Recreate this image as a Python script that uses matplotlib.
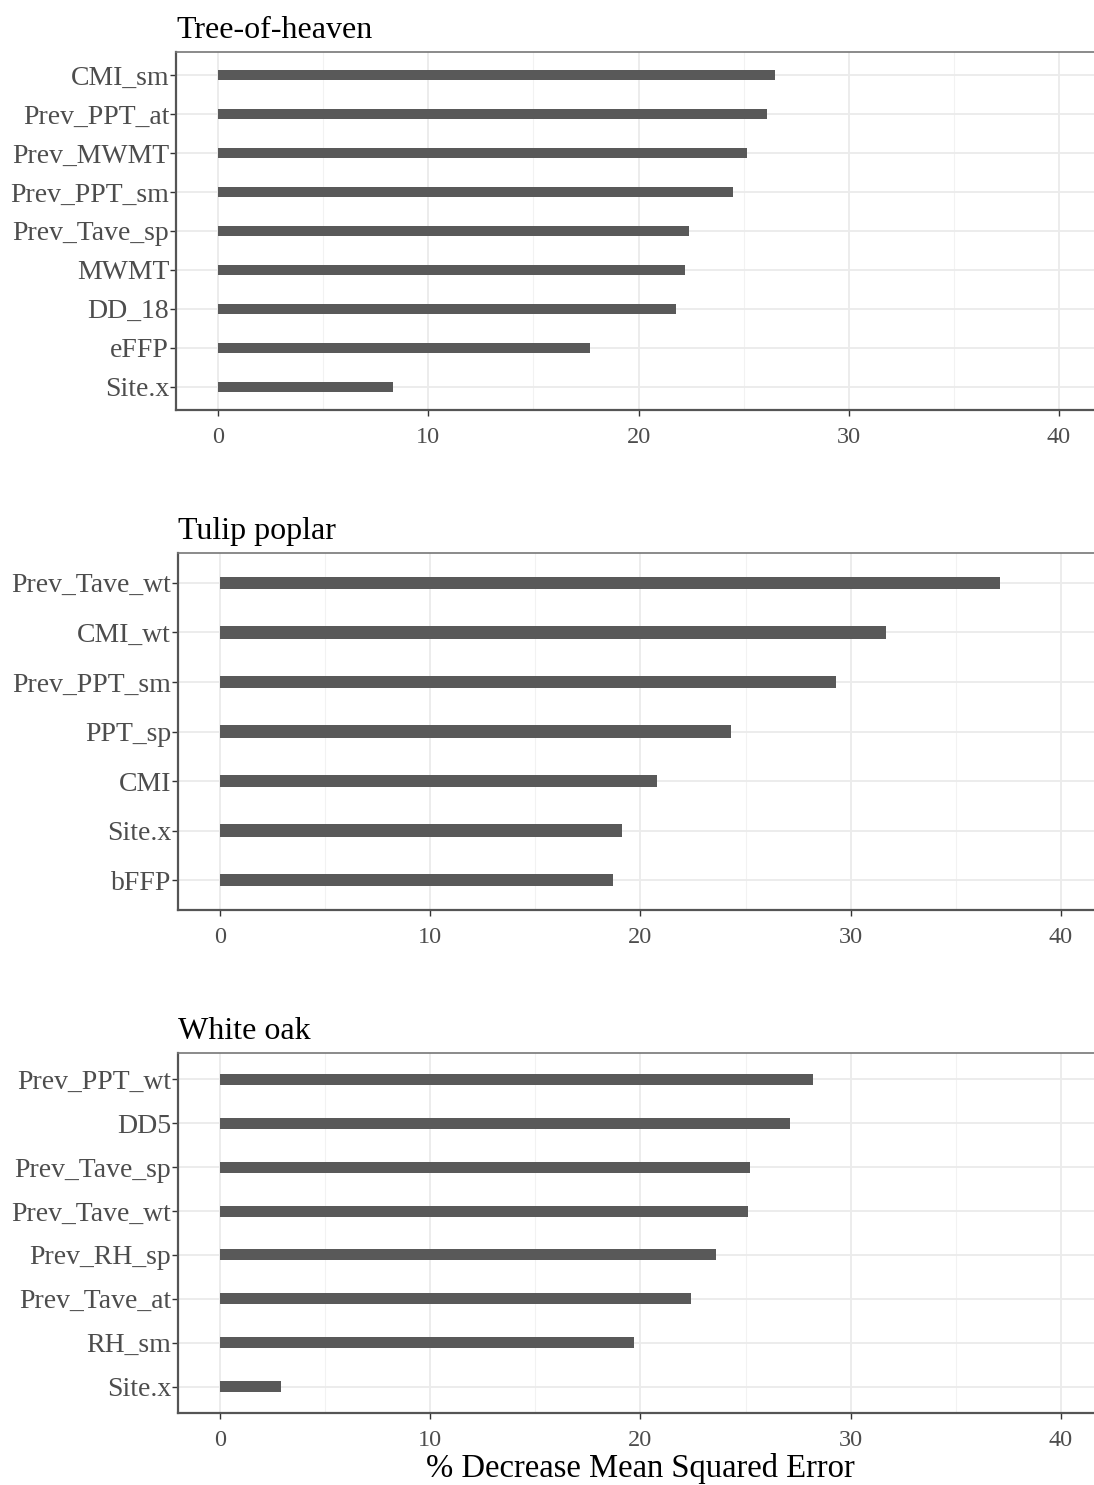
import matplotlib
matplotlib.use("Agg")
import matplotlib.pyplot as plt
from matplotlib.ticker import MultipleLocator

plt.rcParams['font.family'] = ['Liberation Serif', 'DejaVu Serif']

# variable importance per species (top to bottom as drawn)
heaven_vars = ['CMI_sm', 'Prev_PPT_at', 'Prev_MWMT', 'Prev_PPT_sm', 'Prev_Tave_sp',
               'MWMT', 'DD_18', 'eFFP', 'Site.x']
heaven_vals = [26.5, 26.1, 25.15, 24.5, 22.4, 22.2, 21.8, 17.7, 8.3]

poplar_vars = ['Prev_Tave_wt', 'CMI_wt', 'Prev_PPT_sm', 'PPT_sp', 'CMI', 'Site.x', 'bFFP']
poplar_vals = [37.1, 31.7, 29.3, 24.3, 20.8, 19.1, 18.7]

oak_vars = ['Prev_PPT_wt', 'DD5', 'Prev_Tave_sp', 'Prev_Tave_wt', 'Prev_RH_sp',
            'Prev_Tave_at', 'RH_sm', 'Site.x']
oak_vals = [28.2, 27.1, 25.2, 25.1, 23.6, 22.4, 19.7, 2.9]

panels = [
    ('Tree-of-heaven', heaven_vars, heaven_vals, [0.1609, 0.7239, 0.8455, 0.2411]),
    ('Tulip poplar', poplar_vars, poplar_vals, [0.1627, 0.3872, 0.8455, 0.2404]),
    ('White oak', oak_vars, oak_vals, [0.1627, 0.0485, 0.8455, 0.2424]),
]

fig = plt.figure(figsize=(10.94, 14.85), dpi=100)

for title, names, vals, rect in panels:
    ax = fig.add_axes(rect)
    n = len(names)
    ypos = list(range(n, 0, -1))
    ax.barh(ypos, vals, height=0.25, color='#595959', zorder=3)
    ax.set_xlim(-2, 42)
    ax.set_ylim(0.4, n + 0.6)
    ax.set_yticks(ypos)
    ax.set_yticklabels(names)
    ax.xaxis.set_major_locator(MultipleLocator(10))
    ax.xaxis.set_minor_locator(MultipleLocator(5))
    ax.grid(True, which='major', color='#EBEBEB', lw=1.3, zorder=0)
    ax.grid(True, which='minor', axis='x', color='#F2F2F2', lw=0.8, zorder=0)
    ax.set_axisbelow(True)
    ax.tick_params(axis='y', length=4, width=1, color='#333333', labelcolor='#4D4D4D',
                   labelsize=20, pad=1)
    ax.tick_params(axis='x', which='major', length=4, width=1, color='#333333',
                   labelcolor='#4D4D4D', labelsize=17.5, pad=8)
    ax.tick_params(axis='x', which='minor', length=0)
    for side in ['left', 'bottom']:
        ax.spines[side].set_color('#555555')
        ax.spines[side].set_linewidth(1.6)
    for side in ['top', 'right']:
        ax.spines[side].set_color('#777777')
        ax.spines[side].set_linewidth(1.2)
    ax.set_title(title, loc='left', fontsize=23, pad=10)

ax.set_xlabel('% Decrease Mean Squared Error', fontsize=23.5, labelpad=2)

fig.savefig('out.png', dpi=100)
